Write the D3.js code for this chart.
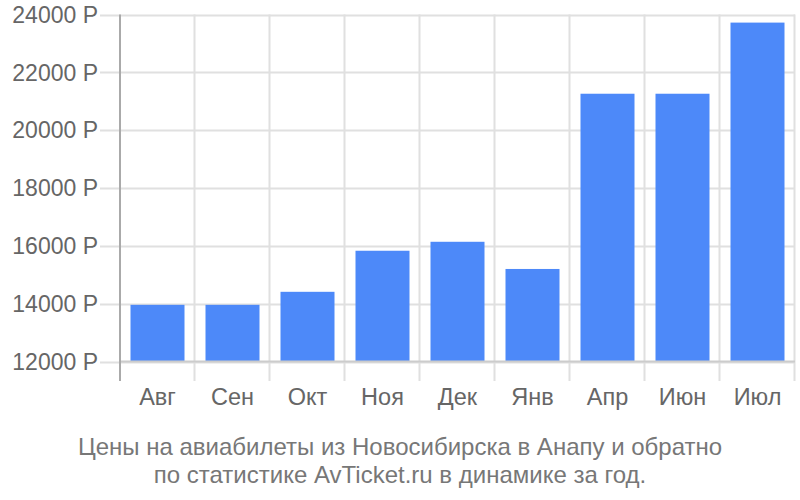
<!DOCTYPE html>
<html><head><meta charset="utf-8">
<script src="https://cdn.jsdelivr.net/npm/d3@7/dist/d3.min.js"></script>
<style>body{margin:0;background:#fff}svg{display:block}text{font-family:"Liberation Sans",Arial,sans-serif}</style>
</head><body>
<svg id="c" width="800" height="500"></svg>
<script>
const months = ["Авг","Сен","Окт","Ноя","Дек","Янв","Апр","Июн","Июл"];
const prices = [13960,13960,14410,15830,16140,15200,21260,21260,23720];
const yTicks = [12000,14000,16000,18000,20000,22000,24000];
const titleLines = ["Цены на авиабилеты из Новосибирска в Анапу и обратно","по статистике AvTicket.ru в динамике за год."];

(function(){
const svg = d3.select("#c");
const pL = 120, pR = 795, pT = 14.5, pB = 361.5;
const x = d3.scaleBand().domain(months).range([pL, pR]).paddingInner(0.28).paddingOuter(0.14);
const xb = d3.scaleBand().domain(months).range([pL, pR]);
const y = d3.scaleLinear().domain([12000, 24000]).range([pB, pT]);

svg.append("g").selectAll("line").data(yTicks).join("line")
  .attr("x1", 100).attr("x2", pR).attr("y1", d => Math.round(y(d))+0.5).attr("y2", d => Math.round(y(d))+0.5)
  .attr("stroke", "#e0e0e0").attr("stroke-width", 2);
const vx = months.map(m => xb(m)).concat([pR]).slice(1);
svg.append("g").selectAll("line").data(vx).join("line")
  .attr("x1", d => Math.round(d)-0.5).attr("x2", d => Math.round(d)-0.5).attr("y1", pT).attr("y2", 381)
  .attr("stroke", "#e0e0e0").attr("stroke-width", 2);

svg.append("g").selectAll("rect").data(months).join("rect")
  .attr("x", d => x(d)).attr("width", x.bandwidth())
  .attr("y", (d,i) => y(prices[i])).attr("height", (d,i) => y(12000) - y(prices[i]))
  .attr("fill", "#4d89f9");

svg.append("line").attr("x1", pL).attr("x2", pR).attr("y1", 361.5).attr("y2", 361.5)
  .attr("stroke", "#cccccc").attr("stroke-width", 2);
svg.append("line").attr("x1", 120).attr("x2", 120).attr("y1", pT).attr("y2", 381)
  .attr("stroke", "#aaaaaa").attr("stroke-width", 2);

svg.append("g").selectAll("text").data(yTicks).join("text")
  .attr("x", 98).attr("y", d => y(d)).attr("dy", "0.36em").attr("text-anchor", "end")
  .attr("font-size", 23).attr("fill", "#666").text(d => d + " Р");

svg.append("g").selectAll("text").data(months).join("text")
  .attr("x", d => x(d) + x.bandwidth()/2).attr("y", 405).attr("text-anchor", "middle")
  .attr("font-size", 23.5).attr("fill", "#666").text(d => d);

svg.append("g").selectAll("text").data(titleLines).join("text")
  .attr("x", 400).attr("y", (d,i) => 455 + i*28).attr("text-anchor", "middle")
  .attr("font-size", 24).attr("fill", "#777").text(d => d);
})();
</script>
</body></html>
